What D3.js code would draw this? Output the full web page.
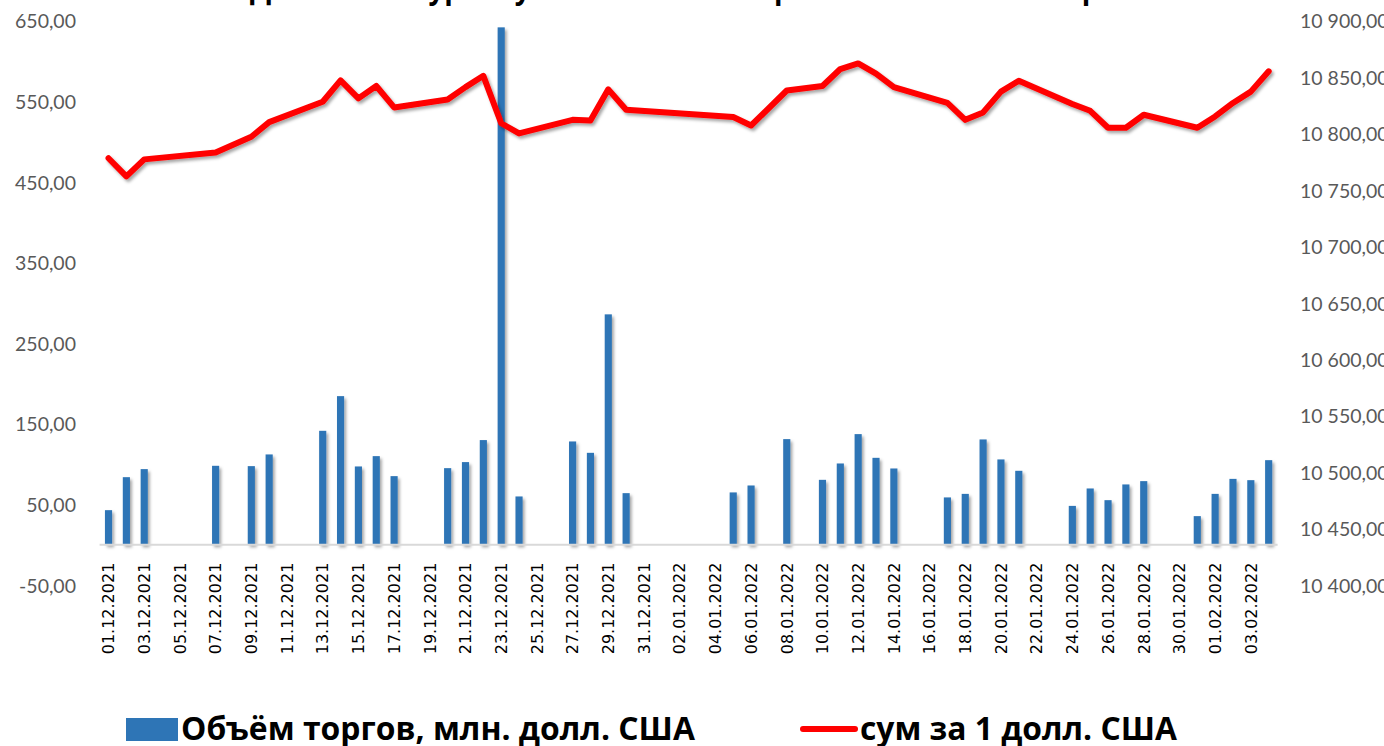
<!DOCTYPE html>
<head>
  <meta charset="utf-8">
  <script src="https://d3js.org/d3.v7.min.js"></script>
  <style>
    body { margin: 0; background: #fff; }
    svg { display: block; }
  </style>
</head>

<body>
  <svg width="1384" height="746"></svg>

  <script>

  // categories: every calendar day 01.12.2021 - 04.02.2022
  var dates = [
    "01.12.2021","02.12.2021","03.12.2021","04.12.2021","05.12.2021","06.12.2021","07.12.2021","08.12.2021",
    "09.12.2021","10.12.2021","11.12.2021","12.12.2021","13.12.2021","14.12.2021","15.12.2021","16.12.2021",
    "17.12.2021","18.12.2021","19.12.2021","20.12.2021","21.12.2021","22.12.2021","23.12.2021","24.12.2021",
    "25.12.2021","26.12.2021","27.12.2021","28.12.2021","29.12.2021","30.12.2021","31.12.2021",
    "01.01.2022","02.01.2022","03.01.2022","04.01.2022","05.01.2022","06.01.2022","07.01.2022","08.01.2022",
    "09.01.2022","10.01.2022","11.01.2022","12.01.2022","13.01.2022","14.01.2022","15.01.2022","16.01.2022",
    "17.01.2022","18.01.2022","19.01.2022","20.01.2022","21.01.2022","22.01.2022","23.01.2022","24.01.2022",
    "25.01.2022","26.01.2022","27.01.2022","28.01.2022","29.01.2022","30.01.2022","31.01.2022",
    "01.02.2022","02.02.2022","03.02.2022","04.02.2022"
  ];

  // trading days only
  var tradeDays = [
    "01.12.2021","02.12.2021","03.12.2021","07.12.2021","09.12.2021","10.12.2021","13.12.2021","14.12.2021",
    "15.12.2021","16.12.2021","17.12.2021","20.12.2021","21.12.2021","22.12.2021","23.12.2021","24.12.2021",
    "27.12.2021","28.12.2021","29.12.2021","30.12.2021","05.01.2022","06.01.2022","08.01.2022","10.01.2022",
    "11.01.2022","12.01.2022","13.01.2022","14.01.2022","17.01.2022","18.01.2022","19.01.2022","20.01.2022",
    "21.01.2022","24.01.2022","25.01.2022","26.01.2022","27.01.2022","28.01.2022","31.01.2022","01.02.2022",
    "02.02.2022","03.02.2022","04.02.2022"
  ];

  // Объём торгов, млн. долл. США
  var volume = [
    42.8, 83.7, 93.7, 97.8, 97.4, 111.9, 141.2, 184.2,
    97.0, 109.8, 85.0, 94.9, 102.4, 129.7, 641.5, 59.8,
    128.0, 113.9, 285.6, 63.9, 64.8, 73.4, 130.9, 80.4,
    100.7, 137.1, 107.7, 94.5, 58.6, 63.0, 130.5, 105.7,
    91.6, 48.1, 69.7, 55.2, 74.7, 78.8, 35.4, 63.0,
    81.6, 80.0, 104.8
  ];

  // сум за 1 долл. США
  var rate = [
    10778, 10762, 10777, 10783, 10797, 10810, 10828, 10847,
    10831, 10842, 10823, 10830, 10841, 10851, 10809, 10800,
    10812, 10811.5, 10839, 10821, 10814.5, 10807, 10838, 10842,
    10857, 10862, 10853, 10841, 10827, 10812, 10818.6, 10837,
    10846.6, 10826, 10820, 10805, 10805, 10816.5, 10805, 10815,
    10827, 10837, 10855
  ];

  var leftTicks = [-50, 50, 150, 250, 350, 450, 550, 650];
  var rightTicks = [10400, 10450, 10500, 10550, 10600, 10650, 10700, 10750, 10800, 10850, 10900];

  var svg = d3.select("svg"),
  width = +svg.attr("width"),
  height = +svg.attr("height");

  var ru = d3.formatLocale({decimal: ",", thousands: " ", grouping: [3], currency: ["", ""], minus: "-"});
  var fmt = ru.format(",.2f");

  var x = d3.scaleBand()
  .domain(dates)
  .range([99.6, 1277.6])
  .paddingInner(0.6)
  .paddingOuter(0.3);

  var yL = d3.scaleLinear().domain([-50, 650]).range([585, 20.5]);
  var yR = d3.scaleLinear().domain([10400, 10900]).range([585, 20.5]);

  // shadows like the office chart
  var defs = svg.append("defs");
  defs.append("filter").attr("id", "shadow")
  .attr("x", "-50%").attr("y", "-10%").attr("width", "200%").attr("height", "130%")
  .append("feDropShadow")
  .attr("dx", 2).attr("dy", 2.5).attr("stdDeviation", 1.8)
  .attr("flood-color", "#000").attr("flood-opacity", 0.35);

  // title (cut off at the top of the picture)
  svg.append("text")
  .attr("x", 695)
  .attr("y", -1)
  .attr("text-anchor", "middle")
  .attr("font-family", "'Open Sans', sans-serif")
  .attr("font-weight", "bold")
  .attr("font-size", 30)
  .attr("textLength", 890)
  .attr("lengthAdjust", "spacingAndGlyphs")
  .text("Динамика курса сума и объёмов торгов на валютной бирже");

  var rows = tradeDays.map(function(d, i) { return {date: d, vol: volume[i], rate: rate[i]}; });

  // bars
  svg.append("g")
  .attr("filter", "url(#shadow)")
  .selectAll("rect")
  .data(rows)
  .enter().append("rect")
  .attr("x", function(d) { return x(d.date); })
  .attr("width", x.bandwidth())
  .attr("y", function(d) { return yL(d.vol); })
  .attr("height", function(d) { return yL(0) - yL(d.vol); })
  .attr("fill", "#2E75B6");

  // category axis
  var xAxis = svg.append("g")
  .attr("transform", "translate(0," + yL(0) + ")")
  .call(d3.axisBottom(x)
    .tickValues(dates.filter(function(d, i) { return i % 2 == 0; }))
    .tickSize(0));

  xAxis.select(".domain").remove();
  xAxis.selectAll("text")
  .attr("transform", "rotate(-90)")
  .attr("text-anchor", "end")
  .attr("x", -18)
  .attr("y", 0)
  .attr("dy", "0.36em")
  .attr("fill", "#000")
  .attr("font-family", "'DejaVu Sans', sans-serif")
  .attr("font-size", 16);

  svg.append("line")
  .attr("x1", x.range()[0]).attr("x2", x.range()[1])
  .attr("y1", yL(0)).attr("y2", yL(0))
  .attr("stroke", "#D9D9D9")
  .attr("stroke-width", 2);

  // rate line
  var line = d3.line()
  .x(function(d) { return x(d.date) + x.bandwidth() / 2; })
  .y(function(d) { return yR(d.rate); });

  svg.append("path")
  .datum(rows)
  .attr("d", line)
  .attr("fill", "none")
  .attr("stroke", "#FF0000")
  .attr("stroke-width", 6)
  .attr("stroke-linejoin", "round")
  .attr("stroke-linecap", "round")
  .attr("filter", "url(#shadow)");

  // value axes
  var leftAxis = svg.append("g")
  .attr("transform", "translate(76,1)")
  .call(d3.axisLeft(yL).tickValues(leftTicks).tickSize(0).tickPadding(0).tickFormat(fmt));

  var rightAxis = svg.append("g")
  .attr("transform", "translate(1300,1)")
  .call(d3.axisRight(yR).tickValues(rightTicks).tickSize(0).tickPadding(0).tickFormat(fmt));

  [leftAxis, rightAxis].forEach(function(a) {
    a.select(".domain").remove();
    a.selectAll("text")
    .attr("fill", "#595959")
    .attr("font-family", "Lato, sans-serif")
    .attr("font-size", 19.5);
  });

  // legend
  var legend = svg.append("g")
  .attr("font-family", "'Liberation Sans Narrow', 'Open Sans', sans-serif")
  .attr("font-weight", "bold")
  .attr("font-size", 32)
  .attr("fill", "#000");

  legend.append("rect")
  .attr("x", 126).attr("y", 718)
  .attr("width", 52).attr("height", 23)
  .attr("fill", "#2E75B6");

  legend.append("text")
  .attr("x", 181).attr("y", 740)
  .attr("textLength", 514)
  .attr("lengthAdjust", "spacingAndGlyphs")
  .text("Объём торгов, млн. долл. США");

  legend.append("line")
  .attr("x1", 803).attr("x2", 855)
  .attr("y1", 729).attr("y2", 729)
  .attr("stroke", "#FF0000")
  .attr("stroke-width", 6)
  .attr("stroke-linecap", "round");

  legend.append("text")
  .attr("x", 860).attr("y", 740)
  .attr("textLength", 317)
  .attr("lengthAdjust", "spacingAndGlyphs")
  .text("сум за 1 долл. США");

  </script>
</body>
